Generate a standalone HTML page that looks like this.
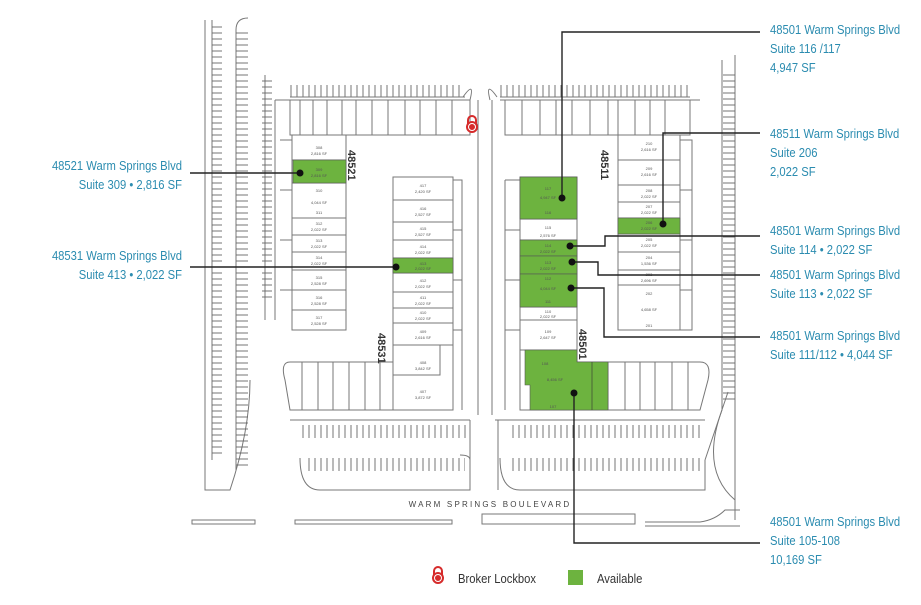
<!DOCTYPE html>
<html><head><meta charset="utf-8"><style>
html,body{margin:0;padding:0;background:#fff;width:921px;height:605px;overflow:hidden}
svg{display:block}
.c{font-family:"Liberation Sans",sans-serif;font-size:13px;fill:#2b8cb0}
.u{font-family:"Liberation Sans",sans-serif;font-size:4px;fill:#555;text-anchor:middle}
.b{font-family:"Liberation Sans",sans-serif;font-size:11px;font-weight:bold;fill:#333}
</style></head><body>
<svg width="921" height="605" viewBox="0 0 921 605" xmlns="http://www.w3.org/2000/svg">
<defs>
<pattern id="hv" width="6" height="12" patternUnits="userSpaceOnUse"><line x1="3" y1="0" x2="3" y2="12" stroke="#666" stroke-width="0.9"/></pattern>
<pattern id="hh" width="12" height="6" patternUnits="userSpaceOnUse"><line x1="0" y1="3" x2="12" y2="3" stroke="#666" stroke-width="0.9"/></pattern>
</defs>
<g fill="none" stroke="#777" stroke-width="1">
<path d="M205 20 V490 H230 Q250 430 250 380"/>
<line x1="212" y1="20" x2="212" y2="460"/>
<rect x="212" y="25" width="10" height="430" fill="url(#hh)" stroke="none"/>
<path d="M248 18 Q236 18 236 30 V470"/>
<rect x="236" y="30" width="12" height="440" fill="url(#hh)" stroke="none"/>
<path d="M265 75 V320"/><rect x="262" y="80" width="10" height="220" fill="url(#hh)" stroke="none"/>
<path d="M722 60 V410 Q700 470 735 500"/>
<path d="M735 55 V520"/>
<rect x="723" y="70" width="12" height="330" fill="url(#hh)" stroke="none"/>
<path d="M728 392 L705 460" />
<rect x="290" y="85" width="170" height="12" fill="url(#hv)" stroke="none"/>
<rect x="500" y="85" width="190" height="12" fill="url(#hv)" stroke="none"/>
<path d="M275 100 H465 M500 100 H700"/>
<path d="M275 100 V320 M290 97 H465 M500 97 H690"/>
<path d="M463 97 Q475 80 470 100 M497 97 Q485 80 490 100"/>
<path d="M478 100 V415 M492 100 V415"/>
<rect x="300" y="425" width="168" height="13" fill="url(#hv)" stroke="none"/>
<rect x="510" y="425" width="190" height="13" fill="url(#hv)" stroke="none"/>
<path d="M290 420 H470 M495 420 H705"/>
<path d="M300 458 Q300 490 320 490 H470 V460 Q470 455 460 455"/>
<rect x="305" y="458" width="160" height="13" fill="url(#hv)" stroke="none"/>
<path d="M500 458 Q500 490 520 490 H705 V460"/>
<rect x="510" y="458" width="190" height="13" fill="url(#hv)" stroke="none"/>
<path d="M470 420 V490 M498 420 V490"/>
<path d="M192 520 H255 V524 H192 Z M295 520 H452 V524 H295 Z M482 514 H635 V524 H482 Z M645 522 H700 Q715 520 725 510 H740 M645 526 H740"/>
<rect x="290" y="100" width="180" height="35"/>
<path d="M300 100V135 M313 100V135 M327 100V135 M342 100V135 M356 100V135 M372 100V135 M388 100V135 M405 100V135 M420 100V135 M436 100V135 M452 100V135"/>
<rect x="292" y="135" width="54" height="195"/>
<path d="M292 160H346 M292 183H346 M292 218H346 M292 235H346 M292 252H346 M292 270H346 M292 290H346 M292 310H346"/>
<path d="M280 140 H292 M280 190 H292 M280 240 H292 M280 290 H292" />
<rect x="393" y="177" width="60" height="233"/>
<path d="M393 200H453 M393 222H453 M393 240H453 M393 258H453 M393 273H453 M393 292H453 M393 308H453 M393 323H453 M393 345H453 M393 375H440 V345"/>
<path d="M453 180 H462 V410 M453 230 H462 M453 280 H462 M453 330 H462"/>
<path d="M393 362 H290 Q280 362 285 380 L290 410 H393"/>
<path d="M302 362V410 M318 362V410 M333 362V410 M349 362V410 M365 362V410 M380 362V410"/>
<rect x="520" y="177" width="57" height="233"/>
<path d="M520 219H577 M520 240H577 M520 256H577 M520 274H577 M520 307H577 M520 320H577 M520 350H577"/>
<path d="M505 180 H520 M505 180 V410 M505 230 H520 M505 280 H520 M505 330 H520"/>
<path d="M577 362 H700 Q712 362 708 380 L700 410 H577"/>
<path d="M592 362V410 M608 362V410 M625 362V410 M640 362V410 M655 362V410 M672 362V410 M688 362V410"/>
<rect x="505" y="100" width="185" height="35"/>
<path d="M522 100V135 M540 100V135 M556 100V135 M572 100V135 M590 100V135 M608 100V135 M618 100V135 M635 100V135 M650 100V135 M665 100V135"/>
<rect x="618" y="135" width="62" height="195"/>
<path d="M618 160H680 M618 185H680 M618 202H680 M618 218H680 M618 234H680 M618 252H680 M618 270H680 M618 285H680"/>
<path d="M680 140 H692 V330 H680 M680 190 H692 M680 240 H692 M680 290 H692"/>
</g>
<g fill="#6db33f" stroke="#555" stroke-width="0.6">
<rect x="293" y="160" width="53" height="23"/>
<rect x="393" y="258" width="60" height="15"/>
<rect x="520" y="177" width="57" height="42"/>
<rect x="520" y="240" width="57" height="16"/>
<rect x="520" y="256" width="57" height="18"/>
<rect x="520" y="274" width="57" height="33"/>
<rect x="618" y="218" width="62" height="16"/>
<path d="M525 350 H577 V362 H608 V410 H530 V385 H525 Z"/>
</g>
<g stroke="#333" stroke-width="0.6"><line x1="592" y1="362" x2="592" y2="410"/></g>
<g class="u">
<text x="319" y="149">308</text><text x="319" y="155">2,816 SF</text>
<text x="319" y="171">309</text><text x="319" y="177">2,816 SF</text>
<text x="319" y="192">310</text><text x="319" y="204">4,044 SF</text><text x="319" y="214">311</text>
<text x="319" y="225">312</text><text x="319" y="231">2,022 SF</text>
<text x="319" y="242">313</text><text x="319" y="248">2,022 SF</text>
<text x="319" y="259">314</text><text x="319" y="265">2,022 SF</text>
<text x="319" y="279">315</text><text x="319" y="285">2,528 SF</text>
<text x="319" y="299">316</text><text x="319" y="305">2,528 SF</text>
<text x="319" y="319">317</text><text x="319" y="325">2,528 SF</text>
<text x="423" y="187">417</text><text x="423" y="193">2,420 SF</text>
<text x="423" y="210">416</text><text x="423" y="216">2,527 SF</text>
<text x="423" y="230">415</text><text x="423" y="236">2,527 SF</text>
<text x="423" y="248">414</text><text x="423" y="254">2,022 SF</text>
<text x="423" y="265">413</text><text x="423" y="270">2,022 SF</text>
<text x="423" y="282">412</text><text x="423" y="288">2,022 SF</text>
<text x="423" y="299">411</text><text x="423" y="305">2,022 SF</text>
<text x="423" y="314">410</text><text x="423" y="320">2,022 SF</text>
<text x="423" y="333">409</text><text x="423" y="339">2,616 SF</text>
<text x="423" y="364">408</text><text x="423" y="370">3,842 SF</text>
<text x="423" y="393">407</text><text x="423" y="399">3,872 SF</text>
<text x="548" y="190">117</text><text x="548" y="199">4,947 SF</text><text x="548" y="214">116</text>
<text x="548" y="229">115</text><text x="548" y="237">2,576 SF</text>
<text x="548" y="247">114</text><text x="548" y="253">2,022 SF</text>
<text x="548" y="264">113</text><text x="548" y="270">2,022 SF</text>
<text x="548" y="280">112</text><text x="548" y="290">4,044 SF</text><text x="548" y="303">111</text>
<text x="548" y="313">110</text><text x="548" y="318">2,022 SF</text>
<text x="548" y="333">109</text><text x="548" y="339">2,647 SF</text>
<text x="545" y="365">108</text><text x="555" y="381">8,456 SF</text><text x="553" y="408">107</text>
<text x="649" y="145">210</text><text x="649" y="151">2,616 SF</text>
<text x="649" y="170">209</text><text x="649" y="176">2,616 SF</text>
<text x="649" y="192">208</text><text x="649" y="198">2,022 SF</text>
<text x="649" y="208">207</text><text x="649" y="214">2,022 SF</text>
<text x="649" y="224">206</text><text x="649" y="230">2,022 SF</text>
<text x="649" y="241">205</text><text x="649" y="247">2,022 SF</text>
<text x="649" y="259">204</text><text x="649" y="265">1,536 SF</text>
<text x="649" y="276">203</text><text x="649" y="282">2,696 SF</text>
<text x="649" y="295">202</text><text x="649" y="311">4,658 SF</text><text x="649" y="327">201</text>
</g>
<text class="b" transform="translate(348,150) rotate(90)">48521</text>
<text class="b" transform="translate(601,150) rotate(90)">48511</text>
<text class="b" transform="translate(378,333) rotate(90)">48531</text>
<text class="b" transform="translate(579,329) rotate(90)">48501</text>
<text x="490" y="507" text-anchor="middle" font-family="Liberation Sans,sans-serif" font-size="8" letter-spacing="2.2" fill="#444">WARM SPRINGS BOULEVARD</text>
<g transform="translate(472,127)"><path d="M-4 -3 V-7 A4 4 0 0 1 4 -7 V-3" fill="none" stroke="#d62b2b" stroke-width="2"/><circle r="6" fill="#d62b2b"/><circle r="3.5" fill="none" stroke="#fff" stroke-width="1"/></g>
<g fill="none" stroke="#222" stroke-width="1.4">
<path d="M190 173 H300"/><path d="M190 267 H396"/>
<path d="M562 198 V32 H760"/>
<path d="M663 224 V133 H760"/>
<path d="M570 246 H605 V236 H760"/>
<path d="M572 262 H598 V275 H760"/>
<path d="M571 288 H604 V337 H760"/>
<path d="M574 393 V543 H760"/>
</g>
<g fill="#111"><circle cx="300" cy="173" r="3.5"/><circle cx="396" cy="267" r="3.5"/><circle cx="562" cy="198" r="3.5"/><circle cx="663" cy="224" r="3.5"/><circle cx="570" cy="246" r="3.5"/><circle cx="572" cy="262" r="3.5"/><circle cx="571" cy="288" r="3.5"/><circle cx="574" cy="393" r="3.5"/></g>
<g class="c" transform="translate(182,0) scale(0.865,1)" text-anchor="end">
<text x="0" y="170">48521 Warm Springs Blvd</text>
<text x="0" y="189">Suite 309 • 2,816 SF</text>
<text x="0" y="260">48531 Warm Springs Blvd</text>
<text x="0" y="279">Suite 413  • 2,022 SF</text>
</g>
<g class="c" transform="translate(770,0) scale(0.865,1)">
<text x="0" y="34">48501 Warm Springs Blvd</text><text x="0" y="53">Suite 116 /117</text><text x="0" y="72">4,947 SF</text>
<text x="0" y="138">48511 Warm Springs Blvd</text><text x="0" y="157">Suite 206</text><text x="0" y="176">2,022 SF</text>
<text x="0" y="235">48501 Warm Springs Blvd</text><text x="0" y="254">Suite 114 • 2,022 SF</text>
<text x="0" y="279">48501 Warm Springs Blvd</text><text x="0" y="298">Suite 113 • 2,022 SF</text>
<text x="0" y="340">48501 Warm Springs Blvd</text><text x="0" y="359">Suite 111/112 • 4,044 SF</text>
<text x="0" y="526">48501 Warm Springs Blvd</text><text x="0" y="545">Suite 105-108</text><text x="0" y="564">10,169 SF</text>
</g>
<g transform="translate(438,578)"><path d="M-4 -3 V-7 A4 4 0 0 1 4 -7 V-3" fill="none" stroke="#d62b2b" stroke-width="2"/><circle r="6" fill="#d62b2b"/><circle r="3.5" fill="none" stroke="#fff" stroke-width="1"/></g>
<g font-family="Liberation Sans,sans-serif" font-size="13" fill="#333">
<text transform="translate(458,583) scale(0.865,1)">Broker Lockbox</text>
<text transform="translate(597,583) scale(0.865,1)">Available</text>
</g>
<rect x="568" y="570" width="15" height="15" fill="#6db33f"/>
</svg>
</body></html>
